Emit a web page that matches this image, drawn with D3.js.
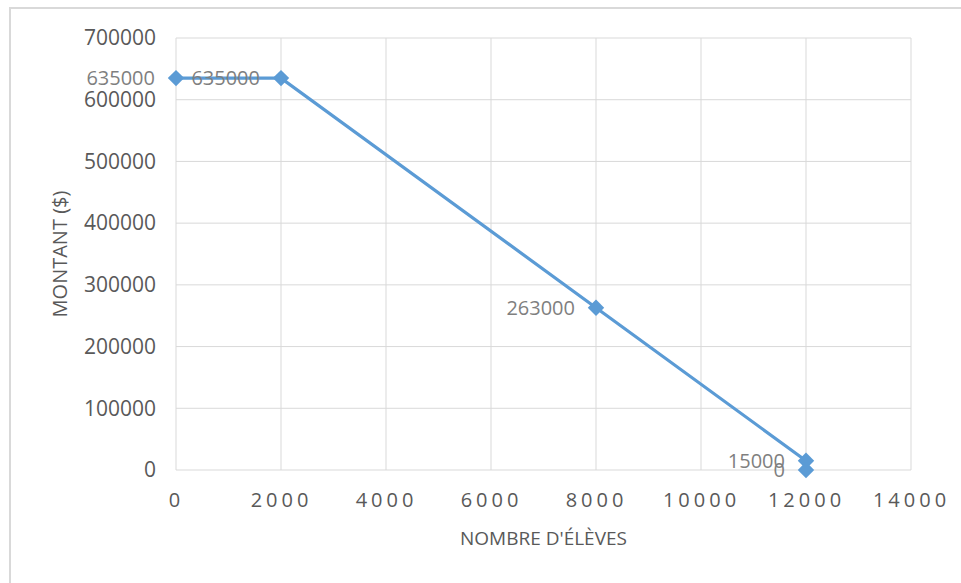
<!DOCTYPE html>
<html>
<head>
<meta charset="utf-8">
<script src="https://cdn.jsdelivr.net/npm/d3@7"></script>
<style>
  html, body { margin: 0; padding: 0; background: #fff; }
  svg { display: block; }
  text { font-family: "Open Sans", "Noto Sans", sans-serif; }
</style>
</head>
<body>
<svg id="chart" width="961" height="583"></svg>
<script>
// Number of students vs. amount
const eleves = [0, 2000, 8000, 12000, 12000];
const montants = [635000, 635000, 263000, 15000, 0];
const xTicks = [0, 2000, 4000, 6000, 8000, 10000, 12000, 14000];
const yTicks = [0, 100000, 200000, 300000, 400000, 500000, 600000, 700000];
const xTitle = "NOMBRE D'ÉLÈVES";
const yTitle = "MONTANT ($)";

const svg = d3.select("#chart");
const W = 961, H = 583;
const plot = { left: 176, right: 911, top: 38, bottom: 470 };

// outer chart frame
svg.append("rect")
  .attr("x", 10).attr("y", 8)
  .attr("width", W + 10).attr("height", H + 10)
  .attr("fill", "#fff").attr("stroke", "#d9d9d9").attr("stroke-width", 2);

const x = d3.scaleLinear().domain([0, 14000]).range([plot.left, plot.right]);
const y = d3.scaleLinear().domain([0, 700000]).range([plot.bottom, plot.top]);

// gridlines
svg.append("g").selectAll("line").data(xTicks).join("line")
  .attr("x1", d => x(d)).attr("x2", d => x(d))
  .attr("y1", plot.top).attr("y2", plot.bottom)
  .attr("stroke", "#d9d9d9").attr("stroke-width", 1);
svg.append("g").selectAll("line").data(yTicks).join("line")
  .attr("x1", plot.left).attr("x2", plot.right)
  .attr("y1", d => y(d)).attr("y2", d => y(d))
  .attr("stroke", "#d9d9d9").attr("stroke-width", 1);

// axes (labels only, via d3 axis generators)
const xAxis = svg.append("g")
  .attr("transform", `translate(0,${plot.bottom})`)
  .call(d3.axisBottom(x).tickValues(xTicks).tickFormat(d3.format("d")).tickSize(0).tickPadding(23));
xAxis.select(".domain").remove();
xAxis.selectAll("text")
  .attr("font-family", "'Open Sans', sans-serif")
  .attr("font-size", 20).attr("fill", "#595959")
  .attr("letter-spacing", "4px");

const yAxis = svg.append("g")
  .attr("transform", `translate(${plot.left},0)`)
  .call(d3.axisLeft(y).tickValues(yTicks).tickFormat(d3.format("d")).tickSize(0).tickPadding(20));
yAxis.select(".domain").remove();
yAxis.selectAll("text")
  .attr("font-family", "'Open Sans', sans-serif")
  .attr("font-size", 21).attr("fill", "#595959");

// axis titles
svg.append("text")
  .attr("x", (plot.left + plot.right) / 2).attr("y", 545)
  .attr("text-anchor", "middle")
  .attr("font-size", 19).attr("fill", "#595959")
  .text(xTitle);
svg.append("text")
  .attr("transform", `translate(67,${(plot.top + plot.bottom) / 2}) rotate(-90)`)
  .attr("text-anchor", "middle")
  .attr("font-size", 20).attr("fill", "#595959")
  .text(yTitle);

// series line
const pts = eleves.map((e, i) => ({ e, m: montants[i] }));
svg.append("path")
  .datum(pts)
  .attr("fill", "none")
  .attr("stroke", "#5b9bd5")
  .attr("stroke-width", 3.2)
  .attr("d", d3.line().x(d => x(d.e)).y(d => y(d.m)));

// diamond markers
svg.append("g").selectAll("path").data(pts).join("path")
  .attr("transform", d => `translate(${x(d.e)},${y(d.m)}) rotate(45)`)
  .attr("d", d3.symbol().type(d3.symbolSquare).size(135))
  .attr("fill", "#5b9bd5");

// data labels, left of each point
svg.append("g").selectAll("text").data(pts).join("text")
  .attr("x", d => x(d.e) - 21)
  .attr("y", d => y(d.m))
  .attr("dy", "0.35em")
  .attr("text-anchor", "end")
  .attr("font-size", 20).attr("fill", "#7f7f7f")
  .text(d => d.m);
</script>
</body>
</html>
